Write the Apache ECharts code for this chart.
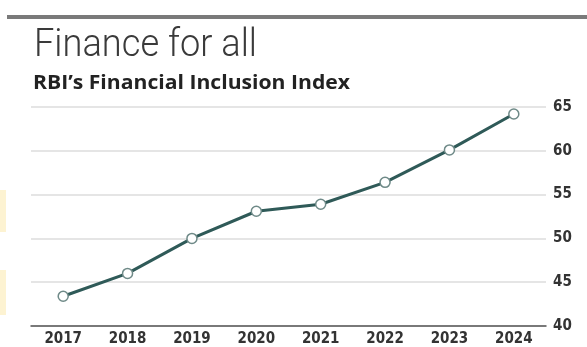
<!DOCTYPE html>
<html><head><meta charset="utf-8">
<script src="https://cdn.jsdelivr.net/npm/echarts@6/dist/echarts.min.js"></script>
<style>html,body{margin:0;padding:0;background:#fff}#c{width:587px;height:347px}</style>
</head><body><div id="c"></div>
<script>
const years = ['2017','2018','2019','2020','2021','2022','2023','2024'];
const fiIndex = [43.4, 46.0, 50.0, 53.1, 53.9, 56.4, 60.1, 64.2];
const yTicks = [40, 45, 50, 55, 60, 65];
const titleText = 'Finance for all';
const subtitleText = 'RBI\u2019s Financial Inclusion Index';

const mctx = document.createElement('canvas').getContext('2d');
function fitScale(text, font, target) {
  mctx.font = font;
  return target / mctx.measureText(text).width;
}
const titleFont = '300 38px Roboto';
const subFont = 'bold 19px "Open Sans"';
const tScale = fitScale(titleText, titleFont, 223);
const sScale = fitScale(subtitleText, subFont, 317);
const axisFont = '"DejaVu Sans Condensed", "DejaVu Sans"';

const chart = echarts.init(document.getElementById('c'), null, {renderer:'canvas'});
chart.setOption({
  animation: false,
  backgroundColor: '#fff',
  graphic: [
    {type: 'rect', shape: {x: 7, y: 15, width: 580, height: 4}, style: {fill: '#7a7a7a'}},
    {type: 'rect', shape: {x: 0, y: 190, width: 6, height: 42}, style: {fill: '#fdf3d2'}},
    {type: 'rect', shape: {x: 0, y: 270, width: 6, height: 45}, style: {fill: '#fdf3d2'}},
    {type: 'text', x: 34, y: 27, scaleX: tScale,
     style: {text: titleText, font: titleFont, fill: '#3a3a3a', verticalAlign: 'top'}},
    {type: 'text', x: 33, y: 74, scaleX: sScale,
     style: {text: subtitleText, font: subFont, fill: '#222', verticalAlign: 'top'}}
  ],
  grid: {left: 31, right: 41, top: 107, bottom: 20},
  xAxis: {
    type: 'category', data: years, boundaryGap: true,
    axisLine: {lineStyle: {color: '#555', width: 1.5}},
    axisTick: {show: false},
    axisLabel: {fontFamily: axisFont, fontWeight: 'bold', fontSize: 15, color: '#333', margin: 6}
  },
  yAxis: {
    type: 'value', position: 'right', min: 40, max: 65, interval: 5,
    axisLine: {show: false}, axisTick: {show: false},
    splitLine: {lineStyle: {color: '#dcdcdc', width: 1.5}},
    axisLabel: {fontFamily: axisFont, fontWeight: 'bold', fontSize: 15, color: '#333', margin: 7,
      formatter: v => yTicks.includes(v) ? String(v) : ''}
  },
  series: [{
    type: 'line', data: fiIndex,
    lineStyle: {color: '#2f5a58', width: 3},
    symbol: 'circle', symbolSize: 10,
    itemStyle: {color: '#fff', borderColor: '#6f8a88', borderWidth: 1.5}
  }]
});
</script></body></html>
